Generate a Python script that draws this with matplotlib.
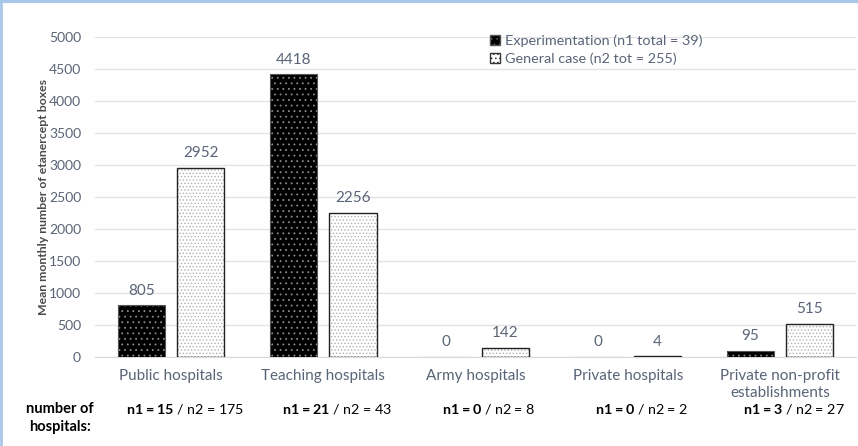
import matplotlib
matplotlib.use("Agg")
import matplotlib.pyplot as plt
import matplotlib.patches as mpatches
from matplotlib.lines import Line2D
import numpy as np

# data
categories = ["Public hospitals", "Teaching hospitals", "Army hospitals",
              "Private hospitals", "Private non-profit\nestablishments"]
experimentation = [805, 4418, 0, 0, 95]
general_case = [2952, 2256, 142, 4, 515]
n1 = [15, 21, 0, 0, 3]
n2 = [175, 43, 8, 2, 27]

plt.rcParams['font.family'] = ['Lato', 'DejaVu Sans']
plt.rcParams['mathtext.fontset'] = 'custom'
plt.rcParams['mathtext.rm'] = 'Lato'
plt.rcParams['mathtext.bf'] = 'Lato:bold'
plt.rcParams['hatch.linewidth'] = 0.6

txt = '#5a6477'

fig = plt.figure(figsize=(8.58, 4.46), dpi=100)
ax = fig.add_axes([0.1107, 0.2002, 0.887, 0.7162])

x = np.arange(len(categories))
w = 0.31
off = 0.195

ax.bar(x - off, experimentation, w, facecolor='black', edgecolor='#8a8a8a',
       hatch='...', linewidth=0, zorder=3)
ax.bar(x - off, experimentation, w, facecolor='none', edgecolor='#555555',
       linewidth=0.8, zorder=4)
ax.bar(x + off, general_case, w, facecolor='white', edgecolor='#b0b0b0',
       hatch='.....', linewidth=0, zorder=3)
ax.bar(x + off, general_case, w, facecolor='none', edgecolor='#222222',
       linewidth=1.0, zorder=4)

for xi, v in zip(x - off, experimentation):
    ax.text(xi, v + 120, str(v), ha='center', va='bottom', fontsize=11, color=txt)
for xi, v in zip(x + off, general_case):
    ax.text(xi, v + 120, str(v), ha='center', va='bottom', fontsize=11, color=txt)

ax.set_xlim(-0.5, len(categories) - 0.5)
ax.set_ylim(0, 5000)
ax.set_yticks(np.arange(0, 5001, 500))
ax.yaxis.grid(True, color='#e3e3e3', linewidth=1.0, zorder=0)
ax.set_axisbelow(True)
for s in ['top', 'right', 'left']:
    ax.spines[s].set_visible(False)
ax.spines['bottom'].set_color('#d9d9d9')
ax.tick_params(axis='both', length=0, colors=txt)
ax.tick_params(axis='y', labelsize=10, pad=10)
ax.set_xticks(x)
ax.set_xticklabels(categories, fontsize=11, color=txt, linespacing=1.25)
ax.tick_params(axis='x', pad=9)

ax.set_ylabel("Mean monthly number of etanercept boxes", fontsize=8.8,
              fontweight='bold', color='#4a4a4a', labelpad=0)

# counts under categories
for xi, a, b in zip(x, n1, n2):
    ax.text(xi + 0.09, -0.165, r"$\mathbf{n1 = %d}$ / n2 = %d" % (a, b),
            transform=ax.get_xaxis_transform(), ha='center', va='center',
            fontsize=10.3, color='black')
fig.text(0.07, 0.063, "number of\nhospitals:", ha='center', va='center',
         fontsize=10.5, fontweight='bold', color='black', linespacing=1.35)

handles = [mpatches.Patch(facecolor='black', edgecolor='#555555', hatch='...'),
           mpatches.Patch(facecolor='white', edgecolor='#333333', hatch='....')]
leg = fig.legend(handles, ["Experimentation (n1 total = 39)", "General case (n2 tot = 255)"],
                 loc='upper left', bbox_to_anchor=(0.563, 0.938), frameon=False,
                 fontsize=10.4, handlelength=0.7, handleheight=0.7,
                 handletextpad=0.3, labelspacing=0.35, borderpad=0)
for t in leg.get_texts():
    t.set_color(txt)

# light blue frame (top and left)
fig.add_artist(Line2D([0, 1], [0.997, 0.997], transform=fig.transFigure,
                      color='#a9c8ea', linewidth=3))
fig.add_artist(Line2D([0.001, 0.001], [0, 1], transform=fig.transFigure,
                      color='#a9c8ea', linewidth=2))

plt.savefig("out.png", dpi=100)
